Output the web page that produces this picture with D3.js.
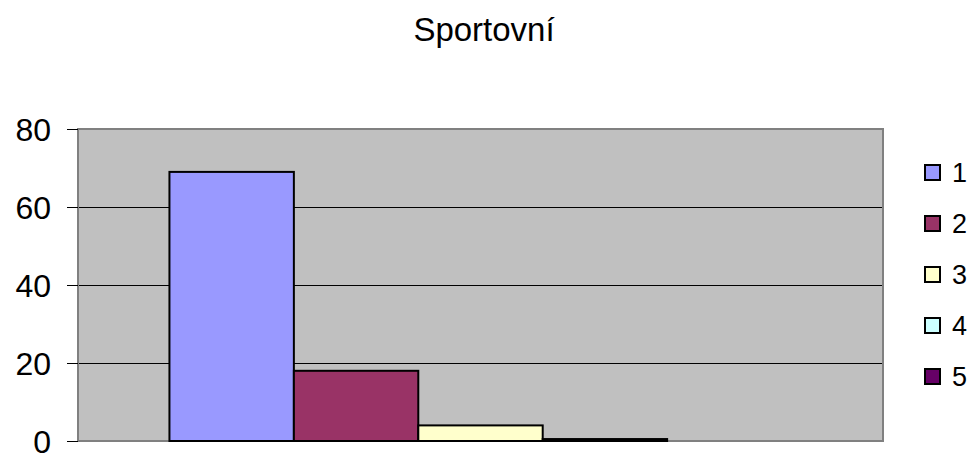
<!DOCTYPE html>
<html>
<head>
<meta charset="utf-8">
<script src="https://cdn.jsdelivr.net/npm/d3@7"></script>
<style>
  body { margin: 0; background: #fff; }
  text { font-family: "Liberation Sans", Arial, sans-serif; fill: #000; }
</style>
</head>
<body>
<script>
// chart data
var title = "Sportovní";
var categories = ["Sportovní"];
var seriesNames = ["1", "2", "3", "4", "5"];
var seriesValues = [69, 18, 4, 0.5, 0];
var seriesColors = ["#9999FF", "#993366", "#FFFFCC", "#CCFFFF", "#660066"];
var yTicks = [0, 20, 40, 60, 80];

var width = 974, height = 453;
var plot = {left: 78, top: 129, right: 883, bottom: 441};

var svg = d3.select("body").append("svg")
    .attr("width", width)
    .attr("height", height);

var y = d3.scaleLinear().domain([0, 80]).range([plot.bottom, plot.top]);

// one category, excel style gap on both sides
var x0 = d3.scaleBand().domain(categories)
    .range([plot.left, plot.right])
    .paddingInner(0)
    .paddingOuter(0.147);
var x1 = d3.scaleBand().domain(seriesNames)
    .range([0, x0.bandwidth()]);

// plot background
svg.append("rect")
    .attr("x", plot.left)
    .attr("y", plot.top)
    .attr("width", plot.right - plot.left)
    .attr("height", plot.bottom - plot.top)
    .style("fill", "#C0C0C0");

// gridlines
svg.append("g").selectAll("line")
    .data(yTicks.filter(function(d){ return d > 0 && d < 80; }))
    .enter().append("line")
    .attr("x1", plot.left)
    .attr("x2", plot.right)
    .attr("y1", function(d){ return Math.round(y(d)) + 0.5; })
    .attr("y2", function(d){ return Math.round(y(d)) + 0.5; })
    .style("stroke", "#000")
    .style("stroke-width", 1);

// border
svg.append("rect")
    .attr("x", plot.left)
    .attr("y", plot.top)
    .attr("width", plot.right - plot.left)
    .attr("height", plot.bottom - plot.top)
    .style("fill", "none")
    .style("stroke", "#808080")
    .style("stroke-width", 2);

// bars
var data = seriesNames.map(function(n, i){ return {name: n, value: seriesValues[i], color: seriesColors[i]}; });
svg.append("g")
    .attr("transform", "translate(" + x0(categories[0]) + ",0)")
    .selectAll("rect")
    .data(data.filter(function(d){ return d.value > 0; }))
    .enter().append("rect")
    .attr("x", function(d){ return x1(d.name); })
    .attr("y", function(d){ return y(d.value); })
    .attr("width", x1.bandwidth())
    .attr("height", function(d){ return y(0) - y(d.value); })
    .style("fill", function(d){ return d.color; })
    .style("stroke", "#000")
    .style("stroke-width", 2);

// y axis
var yAxis = d3.axisLeft(y).tickValues(yTicks).tickSize(11).tickPadding(16);
var ga = svg.append("g")
    .attr("transform", "translate(" + plot.left + ",0)")
    .call(yAxis);
ga.select(".domain").remove();
ga.selectAll(".tick line").style("stroke", "#000");
ga.selectAll(".tick text")
    .style("font-size", "32px")
    .style("font-family", "'Liberation Sans', Arial, sans-serif")
    .attr("dy", "0.36em");

// title
svg.append("text")
    .attr("x", 484)
    .attr("y", 41)
    .attr("text-anchor", "middle")
    .style("font-size", "33px")
    .text(title);

// legend
var leg = svg.append("g").selectAll("g")
    .data(data)
    .enter().append("g")
    .attr("transform", function(d, i){ return "translate(925," + (165 + i * 51) + ")"; });
leg.append("rect")
    .attr("width", 15)
    .attr("height", 15)
    .style("fill", function(d){ return d.color; })
    .style("stroke", "#000")
    .style("stroke-width", 2);
leg.append("text")
    .attr("x", 27)
    .attr("y", 7)
    .attr("dy", "0.36em")
    .style("font-size", "27px")
    .text(function(d){ return d.name; });
</script>
</body>
</html>
